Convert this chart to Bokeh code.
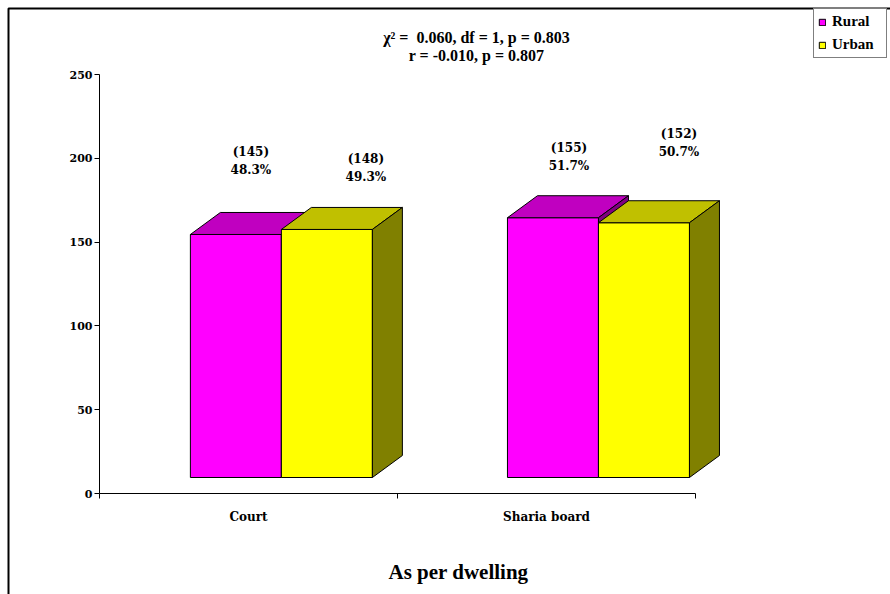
from bokeh.plotting import figure
from bokeh.models import Range1d, LinearAxis, FixedTicker, Legend, LegendItem
from bokeh.core.properties import value
from bokeh.embed import file_html
from bokeh.resources import INLINE

# ---- data -------------------------------------------------------------
categories = ["Court", "Sharia board"]
rural = [145, 155]
urban = [148, 152]
series_names = ["Rural", "Urban"]
stats_lines = ["\u03c7\u00b2 =\u00a0 0.060, df = 1, p = 0.803", "r = -0.010, p = 0.807"]
y_ticks = [0, 50, 100, 150, 200, 250]
x_title = "As per dwelling"

# ---- layout constants (pixels) ----------------------------------------
W, H = 890, 594
ORIGIN_X, ORIGIN_Y = 99, 493      # canvas position of the axes origin
PX_X = 298.0                      # pixels per category
PX_Y = 1.676                      # pixels per unit of count
SERIF = "Liberation Serif"
WIDE = "DejaVu Serif"


def dx_px(px):
    """canvas x pixel -> data x"""
    return (px - ORIGIN_X) / PX_X


def dy_px(py):
    """canvas y pixel -> data y"""
    return (ORIGIN_Y - py) / PX_Y


p = figure(width=W, height=H, output_backend="svg", toolbar_location=None,
           x_range=Range1d(dx_px(0), dx_px(W)), y_range=Range1d(dy_px(H), dy_px(0)),
           min_border=0, x_axis_type=None, y_axis_type=None)
p.grid.visible = False
p.outline_line_color = None
p.background_fill_color = "white"
p.border_fill_color = "white"

# ---- axes -------------------------------------------------------------
yaxis = LinearAxis(fixed_location=0, bounds=(0, 250),
                   ticker=FixedTicker(ticks=y_ticks, minor_ticks=[]))
yaxis.major_tick_out = 5
yaxis.major_tick_in = 0
yaxis.major_label_standoff = 2
yaxis.major_label_text_font = WIDE
yaxis.major_label_text_font_style = "bold"
yaxis.major_label_text_font_size = "11px"
yaxis.major_label_text_color = "black"
yaxis.axis_line_color = "black"
yaxis.major_tick_line_color = "black"
p.add_layout(yaxis, "left")

n = len(categories)
xaxis = LinearAxis(fixed_location=0, bounds=(0, n),
                   ticker=FixedTicker(ticks=[i + 0.5 for i in range(n)],
                                      minor_ticks=list(range(n + 1))))
xaxis.major_label_overrides = {i + 0.5: c for i, c in enumerate(categories)}
xaxis.major_tick_line_color = None
xaxis.major_tick_out = 0
xaxis.minor_tick_out = 5
xaxis.minor_tick_in = 0
xaxis.minor_tick_line_color = "black"
xaxis.axis_line_color = "black"
xaxis.major_label_standoff = 11
xaxis.major_label_text_font = WIDE
xaxis.major_label_text_font_style = "bold"
xaxis.major_label_text_font_size = "12px"
xaxis.major_label_text_color = "black"
p.add_layout(xaxis, "below")

# x axis title
p.text(x=[dx_px(458)], y=[dy_px(571)], text=[x_title], text_align="center",
       text_baseline="middle", text_font=value(SERIF), text_font_style="bold",
       text_font_size="21px", text_color="black")

# ---- 3D columns -------------------------------------------------------
bar_w = 91 / PX_X
step = 1.064                       # perspective spacing between groups
first_left = 0.305
floor = 16 / PX_Y
ddx, ddy = 30 / PX_X, 22 / PX_Y    # depth of the columns

styles = {
    "Rural": dict(front="#FF00FF", top="#C000C0", side="#800080"),
    "Urban": dict(front="#FFFF00", top="#C0C000", side="#808000"),
}

front_renderers = {}
bar_geom = []
for s, (name, vals) in enumerate(zip(series_names, [rural, urban])):
    lefts = [first_left + step * i + s * bar_w for i in range(n)]
    rights = [l + bar_w for l in lefts]
    tops = [floor + v for v in vals]
    st = styles[name]
    fr = p.quad(left=lefts, right=rights, bottom=[floor] * n, top=tops,
                fill_color=st["front"], line_color="black", line_width=1)
    front_renderers[name] = fr
    p.patches(xs=[[l, r, r + ddx, l + ddx] for l, r in zip(lefts, rights)],
              ys=[[t, t, t + ddy, t + ddy] for t in tops],
              fill_color=st["top"], line_color="black", line_width=1)
    p.patches(xs=[[r, r + ddx, r + ddx, r] for r in rights],
              ys=[[floor, floor + ddy, t + ddy, t] for t in tops],
              fill_color=st["side"], line_color="black", line_width=1)
    total = sum(vals)
    for i, v in enumerate(vals):
        bar_geom.append((s, i, (lefts[i] + rights[i]) / 2 + ddx / 2, tops[i] + ddy, v,
                         100.0 * v / total))

# value labels: count and share of the series total
label_dx = {(0, 0): 0, (1, 0): 24, (0, 1): 1, (1, 1): 20}
label_dy = {(0, 0): 60, (1, 0): 48, (0, 1): 48, (1, 1): 67}
lx, ly1, ly2, t1, t2 = [], [], [], [], []
for s, i, cx, ty, v, pct in bar_geom:
    lx.append(cx + label_dx[(s, i)] / PX_X)
    ly1.append(ty + label_dy[(s, i)] / PX_Y)
    ly2.append(ty + (label_dy[(s, i)] - 18) / PX_Y)
    t1.append(f"({v})")
    t2.append(f"{pct:.1f}%")
for yy, tt in ((ly1, t1), (ly2, t2)):
    p.text(x=lx, y=yy, text=tt, text_align="center", text_baseline="middle",
           text_font=value(WIDE), text_font_style="bold", text_font_size="12px",
           text_color="black")

# statistics note
sx = dx_px(476)
p.text(x=[sx, sx], y=[dy_px(37), dy_px(55)], text=stats_lines,
       text_align="center", text_baseline="middle", text_font=value(SERIF),
       text_font_style="bold", text_font_size="16px", text_color="black")

# chart area border (left and top edges)
p.line(x=[dx_px(8), dx_px(8), dx_px(W + 5)], y=[dy_px(H + 5), dy_px(8), dy_px(8)],
       line_color="black", line_width=2)

# legend
legend = Legend(items=[LegendItem(label=nm, renderers=[front_renderers[nm]])
                       for nm in series_names],
                location=(813, H - 58), orientation="vertical")
legend.label_text_font = SERIF
legend.label_text_font_style = "bold"
legend.label_text_font_size = "15px"
legend.label_text_color = "black"
legend.glyph_width = 8
legend.glyph_height = 8
legend.label_height = 16
legend.label_width = 50
legend.label_standoff = 6
legend.spacing = 6
legend.padding = 4
legend.margin = 0
legend.border_line_color = "black"
legend.border_line_width = 1
legend.background_fill_color = "white"
legend.background_fill_alpha = 1
p.add_layout(legend, "center")

open("out.html", "w").write(file_html(p, INLINE))
